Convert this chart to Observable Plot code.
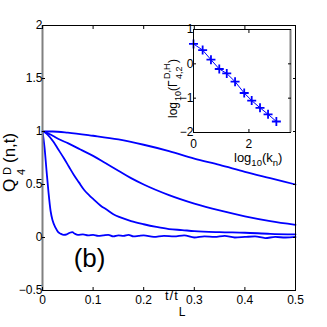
<!DOCTYPE html>
<html><head><meta charset="utf-8">
<script src="https://cdn.jsdelivr.net/npm/d3@7"></script>
<script src="https://cdn.jsdelivr.net/npm/@observablehq/plot@0.6"></script>
<style>
html,body{margin:0;padding:0;background:#fff;}
#wrap{position:relative;width:327px;height:327px;overflow:hidden;}
#wrap svg{position:absolute;left:0;top:0;}
</style></head><body><div id="wrap"></div>
<script>
// ---- main panel data: Q^D_4(n,t) vs t/t_L, four shells n ----
const seriesNames = ["n1", "n2", "n3", "n4"];
const t1 = [0, 0.02, 0.05, 0.1, 0.15, 0.2, 0.25, 0.3, 0.35, 0.4, 0.45, 0.5];
const q1 = [1, 1.0, 0.99, 0.96, 0.925, 0.875, 0.815, 0.745, 0.685, 0.62, 0.56, 0.5];
const t2 = [0, 0.01, 0.02, 0.036, 0.05, 0.075, 0.1, 0.125, 0.15, 0.175, 0.2, 0.25, 0.3, 0.35, 0.4, 0.45, 0.5];
const q2 = [1, 0.985, 0.96, 0.92, 0.89, 0.83, 0.77, 0.7, 0.63, 0.56, 0.5, 0.4, 0.32, 0.255, 0.2, 0.155, 0.12];
const t3 = [0, 0.005, 0.01, 0.022, 0.03, 0.042, 0.052, 0.062, 0.072, 0.082, 0.092, 0.101, 0.115, 0.128, 0.14, 0.154, 0.175, 0.2, 0.225, 0.25, 0.276, 0.3, 0.35, 0.4, 0.45, 0.5];
const q3 = [1, 0.99, 0.97, 0.9, 0.84, 0.75, 0.67, 0.59, 0.52, 0.45, 0.4, 0.36, 0.3, 0.26, 0.22, 0.19, 0.155, 0.125, 0.1, 0.08, 0.07, 0.06, 0.05, 0.045, 0.035, 0.03];
const t4 = [0, 0.004, 0.008, 0.012, 0.016, 0.02, 0.026, 0.031, 0.036, 0.042, 0.048, 0.054, 0.059, 0.064, 0.07, 0.08, 0.09, 0.1, 0.11, 0.12, 0.13, 0.14, 0.15, 0.16, 0.17, 0.18, 0.19, 0.2, 0.22, 0.24, 0.26, 0.28, 0.3, 0.32, 0.34, 0.36, 0.38, 0.4, 0.42, 0.44, 0.46, 0.48, 0.5];
const q4 = [1, 0.85, 0.63, 0.42, 0.25, 0.16, 0.09, 0.05, 0.035, 0.025, 0.03, 0.045, 0.05, 0.035, 0.025, 0.03, 0.02, 0.025, 0.015, 0.02, 0.025, 0.01, 0.02, 0.015, 0.025, 0.01, 0.015, 0.02, 0.005, 0.015, 0.01, 0.02, 0.0, 0.01, 0.005, 0.015, 0.0, 0.005, 0.01, -0.005, 0.005, 0.0, 0.005];

const xDomain = [0, 0.5];
const yDomain = [-0.5, 2];
const xTicks = [0, 0.1, 0.2, 0.3, 0.4, 0.5];
const yTicks = [-0.5, 0, 0.5, 1, 1.5, 2];
const panelLabel = [{x: 0.093, y: -0.2, text: "(b)"}];

// ---- inset data: log10 Gamma vs log10 k_n ----
const logK = [0.0, 0.33, 0.63, 0.93, 1.2, 1.5, 1.83, 2.1, 2.4, 2.69, 2.99];
const logGamma = [0.58, 0.40, 0.12, -0.15, -0.28, -0.52, -0.85, -1.07, -1.28, -1.47, -1.68];
const insetXDomain = [0, 3.5];
const insetYDomain = [-2, 1];
const insetXTicks = [0, 2];
const insetYTicks = [-2, -1, 0, 1];

const FONT = "'Liberation Sans', Arial, sans-serif";
const BLUE = "#0000ff";

const rows = [];
[[t1, q1], [t2, q2], [t3, q3], [t4, q4]].forEach(([ts, qs], i) => {
  ts.forEach((t, j) => rows.push({series: seriesNames[i], t, q: qs[j]}));
});
const insetRows = logK.map((k, i) => ({k, g: logGamma[i]}));

const blank = () => "";
const fmt = d => String(d).replace("-", "\u2212");

const main = Plot.plot({
  width: 327, height: 327,
  marginTop: 25, marginRight: 32, marginBottom: 37, marginLeft: 42,
  style: {fontFamily: FONT, fontSize: "12px", background: "transparent", overflow: "visible", color: "#000"},
  x: {domain: xDomain, label: null},
  y: {domain: yDomain, label: null},
  marks: [
    Plot.line(rows, {x: "t", y: "q", z: "series", stroke: BLUE, strokeWidth: 1.8, curve: "monotone-x"}),
    Plot.ruleY([yDomain[1]], {stroke: "#000", strokeWidth: 1}),
    Plot.ruleY([yDomain[0]], {stroke: "#000", strokeWidth: 1}),
    Plot.ruleX([xDomain[1]], {stroke: "#000", strokeWidth: 1}),
    Plot.ruleX([xDomain[0]], {stroke: "#808080", strokeWidth: 2}),
    Plot.axisX({ticks: xTicks, anchor: "bottom", tickSize: -3, tickPadding: 8, tickFormat: fmt, label: null}),
    Plot.axisX({ticks: xTicks, anchor: "top", tickSize: -3, tickFormat: blank, label: null}),
    Plot.axisY({ticks: yTicks, anchor: "left", tickSize: -3, tickPadding: 3, tickFormat: fmt, label: null}),
    Plot.axisY({ticks: yTicks, anchor: "right", tickSize: -3, tickFormat: blank, label: null}),
    Plot.text(panelLabel, {x: "x", y: "y", text: "text", fontSize: 26, fill: "#000"})
  ]
});

const inset = Plot.plot({
  width: 327, height: 327,
  marginTop: 29, marginRight: 37, marginBottom: 195, marginLeft: 193,
  style: {fontFamily: FONT, fontSize: "12px", background: "transparent", overflow: "visible", color: "#000"},
  x: {domain: insetXDomain, label: null},
  y: {domain: insetYDomain, label: null},
  marks: [
    Plot.frame({fill: "#fff", stroke: null}),
    Plot.line(insetRows, {x: "k", y: "g", stroke: BLUE, strokeWidth: 1}),
    Plot.dot(insetRows, {x: "k", y: "g", symbol: "plus", r: 3, stroke: BLUE, strokeWidth: 1.8}),
    Plot.ruleY([insetYDomain[1]], {stroke: "#000"}),
    Plot.ruleY([insetYDomain[0]], {stroke: "#000"}),
    Plot.ruleX([insetXDomain[0]], {stroke: "#000"}),
    Plot.ruleX([insetXDomain[1]], {stroke: "#808080", strokeWidth: 2}),
    Plot.axisX({ticks: insetXTicks, anchor: "bottom", tickSize: -3, tickPadding: 10, tickFormat: fmt, label: null}),
    Plot.axisX({ticks: insetXTicks, anchor: "top", tickSize: -3, tickFormat: blank, label: null}),
    Plot.axisY({ticks: insetYTicks, anchor: "left", tickSize: -3, tickPadding: 3, tickFormat: fmt, label: null}),
    Plot.axisY({ticks: insetYTicks, anchor: "right", tickSize: -3, tickFormat: blank, label: null})
  ]
});

const wrap = document.getElementById("wrap");
wrap.appendChild(main);
wrap.appendChild(inset);

// ---- rich-text axis labels ----
function txt(sel, size) {
  return sel.append("text").attr("font-family", FONT).attr("font-size", size)
    .attr("fill", "#000").attr("text-anchor", "start");
}
const ms = d3.select(main);
// y label: Q^D_4(n,t)
const yg = ms.append("g").attr("transform", "translate(15,192) rotate(-90)");
txt(yg, 17).attr("x", 0).attr("y", 0).text("Q");
txt(yg, 11).attr("x", 17).attr("y", -4).text("D");
txt(yg, 11).attr("x", 17).attr("y", 10).text("4");
txt(yg, 17).attr("x", 29).attr("y", 0).text("(n,t)");
// x label: t/t_L
const xl = txt(ms, 13).attr("x", 165).attr("y", 300).attr("letter-spacing", 1);
xl.append("tspan").text("t/t");
xl.append("tspan").attr("dy", 16).attr("font-size", 12).text("L");

const is = d3.select(inset);
// inset y label: log10(Gamma^{D,H}_{4,2})
const ig = is.append("g").attr("transform", "translate(177,118) rotate(-90)");
txt(ig, 12).attr("x", 0).attr("y", 0).text("log");
txt(ig, 9).attr("x", 17).attr("y", 4).text("10");
txt(ig, 12).attr("x", 27).attr("y", 0).text("(\u0393");
txt(ig, 9).attr("x", 39).attr("y", -7).text("D,H");
txt(ig, 9).attr("x", 39).attr("y", 5).text("4,2");
txt(ig, 12).attr("x", 55).attr("y", 0).text(")");
// inset x label: log10(k_n)
const ixl = txt(is, 13).attr("x", 234).attr("y", 162);
ixl.append("tspan").text("log");
ixl.append("tspan").attr("dy", 4).attr("font-size", 9.5).text("10");
ixl.append("tspan").attr("dy", -4).text("(k");
ixl.append("tspan").attr("dy", 4).attr("font-size", 9.5).text("n");
ixl.append("tspan").attr("dy", -4).text(")");
</script>
</body></html>
